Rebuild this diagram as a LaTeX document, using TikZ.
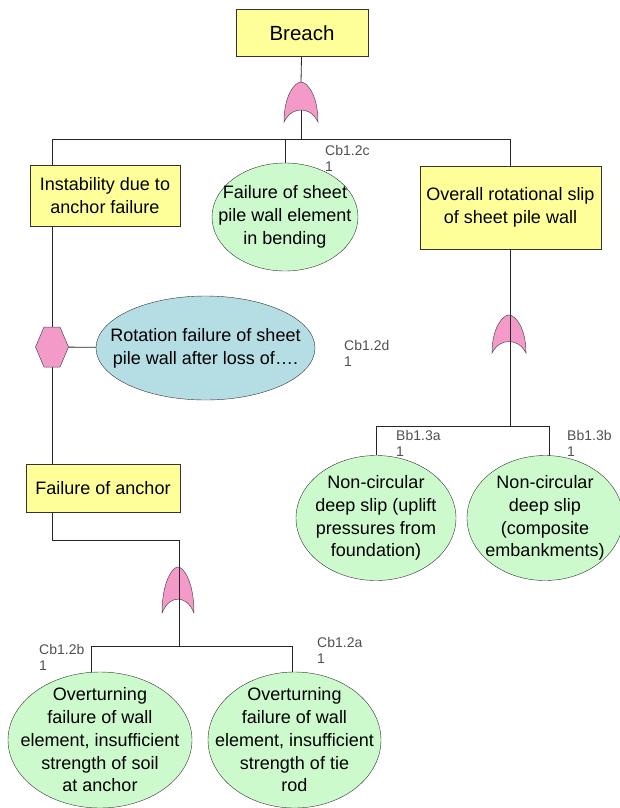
\documentclass[tikz,border=0pt]{standalone}
\usepackage{fontspec}
\setmainfont{Liberation Sans}
\usetikzlibrary{shapes.geometric, calc}
\pgfdeclarelayer{background}
\pgfsetlayers{background,main}
\definecolor{boxyellow}{RGB}{255,255,153}
\definecolor{leafgreen}{RGB}{204,250,204}
\definecolor{leafblue}{RGB}{180,221,228}
\definecolor{gatepink}{RGB}{244,154,200}
\definecolor{codegray}{RGB}{80,80,80}
\tikzstyle{event} = [rectangle, 
draw=black!80, 
fill=boxyellow, 
text centered, 
align=center, 
inner sep=0pt, 
font=\fontsize{18}{22.5}\selectfont]
\tikzstyle{leaf} = [ellipse, 
draw=black!80, 
fill=leafgreen, 
inner sep=0pt]
\tikzstyle{leaftext} = [align=center, inner sep=0pt, 
font=\fontsize{18}{22.75}\selectfont]
\tikzstyle{code} = [anchor=north west, align=left, inner sep=0pt, 
text=codegray, font=\fontsize{14}{16}\selectfont]
\tikzstyle{wire} = [draw=black!85, line width=0.8pt]
\tikzset{orgate/.pic={
  \path[draw=black!70, fill=gatepink, line width=0.5pt]
    (-17,40) .. controls (-17,13) and (-6,0) .. (0,0)
    .. controls (6,0) and (17,13) .. (17,40)
    .. controls (12,30) and (5,28) .. (0,28)
    .. controls (-5,28) and (-12,30) .. (-17,40) -- cycle;
  \coordinate (-top) at (0,0);
  \coordinate (-in) at (0,28);
}}

\begin{document}
\begin{tikzpicture}[x=1pt, y=-1pt]
        \useasboundingbox (0,0) rectangle (619,808);
        % events
        \node (breach) [event, minimum width=132, minimum height=47, font=\fontsize{20.5}{24}\selectfont] at (302,33) {Breach};
        \node (instab) [event, minimum width=150, minimum height=61] at (105,195.5) {Instability due to\\anchor failure};
        \node (slip) [event, minimum width=181, minimum height=83] at (510.5,207.5) {Overall rotational slip\\of sheet pile wall};
        \node (anchor) [event, minimum width=154, minimum height=48] at (103,488) {Failure of anchor};
        % basic events
        \node (bend) [leaf, minimum width=146, minimum height=108, label={[leaftext]center:Failure of sheet\\pile wall element\\in bending}] at (285,217) {};
        \node (rot) [leaf, fill=leafblue, minimum width=219, minimum height=104, label={[leaftext]center:Rotation failure of sheet\\pile wall after loss of….}] at (205.5,348) {};
        \node (uplift) [leaf, minimum width=160, minimum height=125, label={[leaftext]center:Non-circular\\deep slip (uplift\\pressures from\\foundation)}] at (376,518) {};
        \node (compo) [leaf, minimum width=156, minimum height=125, label={[leaftext]center:Non-circular\\deep slip\\(composite\\embankments)}] at (545,518) {};
        \node (soil) [leaf, minimum width=184, minimum height=136, label={[leaftext]center:Overturning\\failure of wall\\element, insufficient\\strength of soil\\at anchor}] at (100,740) {};
        \node (tie) [leaf, minimum width=173, minimum height=136, label={[leaftext]center:Overturning\\failure of wall\\element, insufficient\\strength of tie\\rod}] at (294.5,740) {};
        % codes
        \node (cbc) [code] at (325,145) {Cb1.2c\\1};
        \node (cbd) [code] at (344,340) {Cb1.2d\\1};
        \node (bba) [code] at (396,430) {Bb1.3a\\1};
        \node (bbb) [code] at (567,430) {Bb1.3b\\1};
        \node (cbb) [code] at (39,644) {Cb1.2b\\1};
        \node (cba) [code] at (317,637) {Cb1.2a\\1};
        % gates
        \pic (g1) at (301,82) {orgate};
        \pic[yscale=0.95] (g2) at (509,315) {orgate};
        \pic[xscale=0.94, yscale=1.15] (g3) at (178,567) {orgate};
        \coordinate (hex) at (52,347);
        \draw[draw=black!70, fill=gatepink, line width=0.5pt] ($(hex)+(-16.5,0)$) -- ++(8.5,-20) -- ++(16,0) -- ++(8.5,20) -- ++(-8.5,20) -- ++(-16,0) -- cycle;
        % junctions
        \coordinate (j1) at (301,139);
        \coordinate (j2) at (510,426);
        \coordinate (j3) at (179,540);
        \coordinate (j4) at (179,646);
        \begin{pgfonlayer}{background}
        \draw [wire] (breach) -- (g1-top);
        \draw [wire] (g1-in) -- (j1);
        \draw [wire] (j1) -| (hex);
        \draw [wire] (j1) -| (slip);
        \draw [wire] (j1 -| bend) -- (bend);
        \draw [wire] (hex) -- (rot);
        \draw [wire] (hex) |- (j3) -- (j3 |- g3-top);
        \draw [wire] (j2) -| (uplift);
        \draw [wire] ($(j2 -| compo)+(4,0)$) -- (j2) ($(j2 -| compo)+(4,0)$) -- ($(compo)+(4,0)$);
        \draw [wire] ($(j4 -| soil)+(-9,0)$) -- ($(j4 -| tie)+(-2,0)$);
        \draw [wire] ($(j4 -| soil)+(-9,0)$) -- ($(soil)+(-9,0)$);
        \draw [wire] ($(j4 -| tie)+(-2,0)$) -- ($(tie)+(-2,0)$);
        \end{pgfonlayer}
        \draw [wire] (slip.south -| j2) -- (j2);
        \draw [wire] (j3) -- (j4);
    \end{tikzpicture}
\end{document}
